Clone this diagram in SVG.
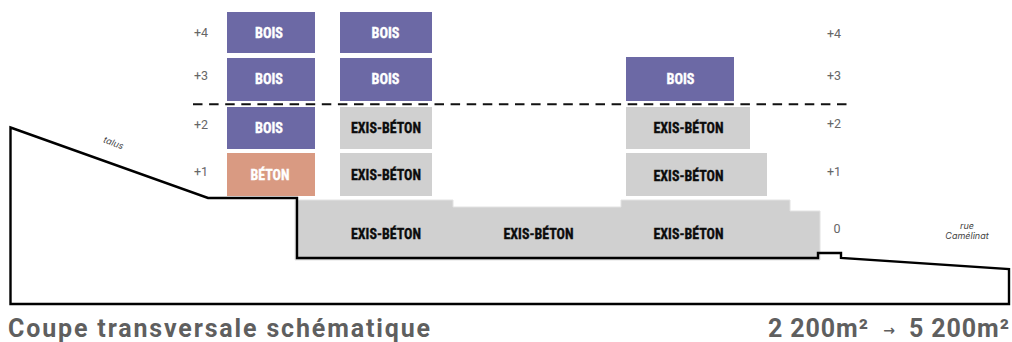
<svg xmlns="http://www.w3.org/2000/svg" width="1012" height="342" viewBox="0 0 1012 342">
<style>
.bois{fill:#6c69a5}
.beton{fill:#d99a82}
.exis{fill:#d0d0d0}
.lb{font-family:"Liberation Sans Narrow","Roboto Condensed",Roboto,sans-serif;font-weight:700;font-size:15px;text-anchor:middle;stroke-width:.35px}
.w{fill:#fff;stroke:#fff}
.k{fill:#0c0c0c;stroke:#0c0c0c}
.lv{font-family:Roboto,"Liberation Sans",sans-serif;font-size:12.500px;fill:#666;text-anchor:middle}
.note{font-family:Inter,"Liberation Sans",sans-serif;font-style:italic;font-size:9px;fill:#444;text-anchor:middle}
.cap{font-family:Roboto,"Liberation Sans",sans-serif;font-weight:700;font-size:25px;fill:#5f5f5f}
.arrow{font-family:"DejaVu Sans",sans-serif;font-weight:700;font-size:14px;fill:#5f5f5f;text-anchor:middle}
.line{fill:none;stroke:#000;stroke-width:2.400}
</style>
<g id="ground-fill"><path class="exis" stroke="#e2e2e2" d="M295 200H453V207H621V200H790V211H820V260H295Z"/></g>
<g id="connectors">
<path class="line" d="M10.500 127.500L208 198H297V258H818V253H841V258L1009 269V304H10.500Z"/>
<path d="M193 104.300H848" fill="none" stroke="#111" stroke-width="2" stroke-dasharray="9.500 6.600"/>
</g>
<g id="n1"><rect class="bois" x="227" y="12" width="88" height="41"/><text class="lb w" x="269" y="38" textLength="28" lengthAdjust="spacingAndGlyphs">BOIS</text></g>
<g id="n2"><rect class="bois" x="227" y="58" width="88" height="43"/><text class="lb w" x="269" y="84" textLength="28" lengthAdjust="spacingAndGlyphs">BOIS</text></g>
<g id="n3"><rect class="bois" x="227" y="107" width="88" height="42"/><text class="lb w" x="269" y="133" textLength="28" lengthAdjust="spacingAndGlyphs">BOIS</text></g>
<g id="n4"><rect class="beton" x="227" y="153" width="88" height="43"/><text class="lb w" x="270" y="180" textLength="39" lengthAdjust="spacingAndGlyphs">BÉTON</text></g>
<g id="n5"><rect class="bois" x="340" y="12" width="92" height="41"/><text class="lb w" x="385.500" y="38" textLength="28" lengthAdjust="spacingAndGlyphs">BOIS</text></g>
<g id="n6"><rect class="bois" x="340" y="58" width="92" height="43"/><text class="lb w" x="385.500" y="84" textLength="28" lengthAdjust="spacingAndGlyphs">BOIS</text></g>
<g id="n7"><rect class="exis" x="340" y="107" width="92" height="42"/><text class="lb k" x="386" y="133" textLength="70" lengthAdjust="spacingAndGlyphs">EXIS-BÉTON</text></g>
<g id="n8"><rect class="exis" x="340" y="153" width="92" height="43"/><text class="lb k" x="386" y="180" textLength="70" lengthAdjust="spacingAndGlyphs">EXIS-BÉTON</text></g>
<g id="n9"><rect class="bois" x="626" y="57" width="108" height="44"/><text class="lb w" x="680.500" y="84" textLength="28" lengthAdjust="spacingAndGlyphs">BOIS</text></g>
<g id="n10"><rect class="exis" x="626" y="107" width="124" height="42"/><text class="lb k" x="688.500" y="133" textLength="70" lengthAdjust="spacingAndGlyphs">EXIS-BÉTON</text></g>
<g id="n11"><rect class="exis" x="626" y="153" width="141" height="43"/><text class="lb k" x="688.500" y="181" textLength="70" lengthAdjust="spacingAndGlyphs">EXIS-BÉTON</text></g>
<g id="n12"><text class="lb k" x="386" y="239" textLength="70" lengthAdjust="spacingAndGlyphs">EXIS-BÉTON</text></g>
<g id="n13"><text class="lb k" x="538.500" y="239" textLength="70" lengthAdjust="spacingAndGlyphs">EXIS-BÉTON</text></g>
<g id="n14"><text class="lb k" x="688.500" y="239" textLength="70" lengthAdjust="spacingAndGlyphs">EXIS-BÉTON</text></g>
<g id="levels">
<text class="lv" x="201" y="37">+4</text><text class="lv" x="201" y="80">+3</text><text class="lv" x="201" y="129">+2</text><text class="lv" x="201" y="176">+1</text>
<text class="lv" x="834" y="38">+4</text><text class="lv" x="834" y="80">+3</text><text class="lv" x="834" y="128">+2</text><text class="lv" x="834" y="176">+1</text><text class="lv" x="837" y="233">0</text>
</g>
<g id="notes">
<text class="note" x="113.500" y="146" transform="rotate(20 113.500 143)">talus</text>
<text class="note" x="967" y="229">rue</text>
<text class="note" x="967" y="239">Camélinat</text>
</g>
<g id="captions">
<text class="cap" x="8" y="337" textLength="422" lengthAdjust="spacing">Coupe transversale schématique</text>
<text class="cap" x="768" y="337" textLength="100" lengthAdjust="spacing">2 200m²</text>
<text class="arrow" x="889" y="335">→</text>
<text class="cap" x="909" y="337" textLength="100" lengthAdjust="spacing">5 200m²</text>
</g>
</svg>
